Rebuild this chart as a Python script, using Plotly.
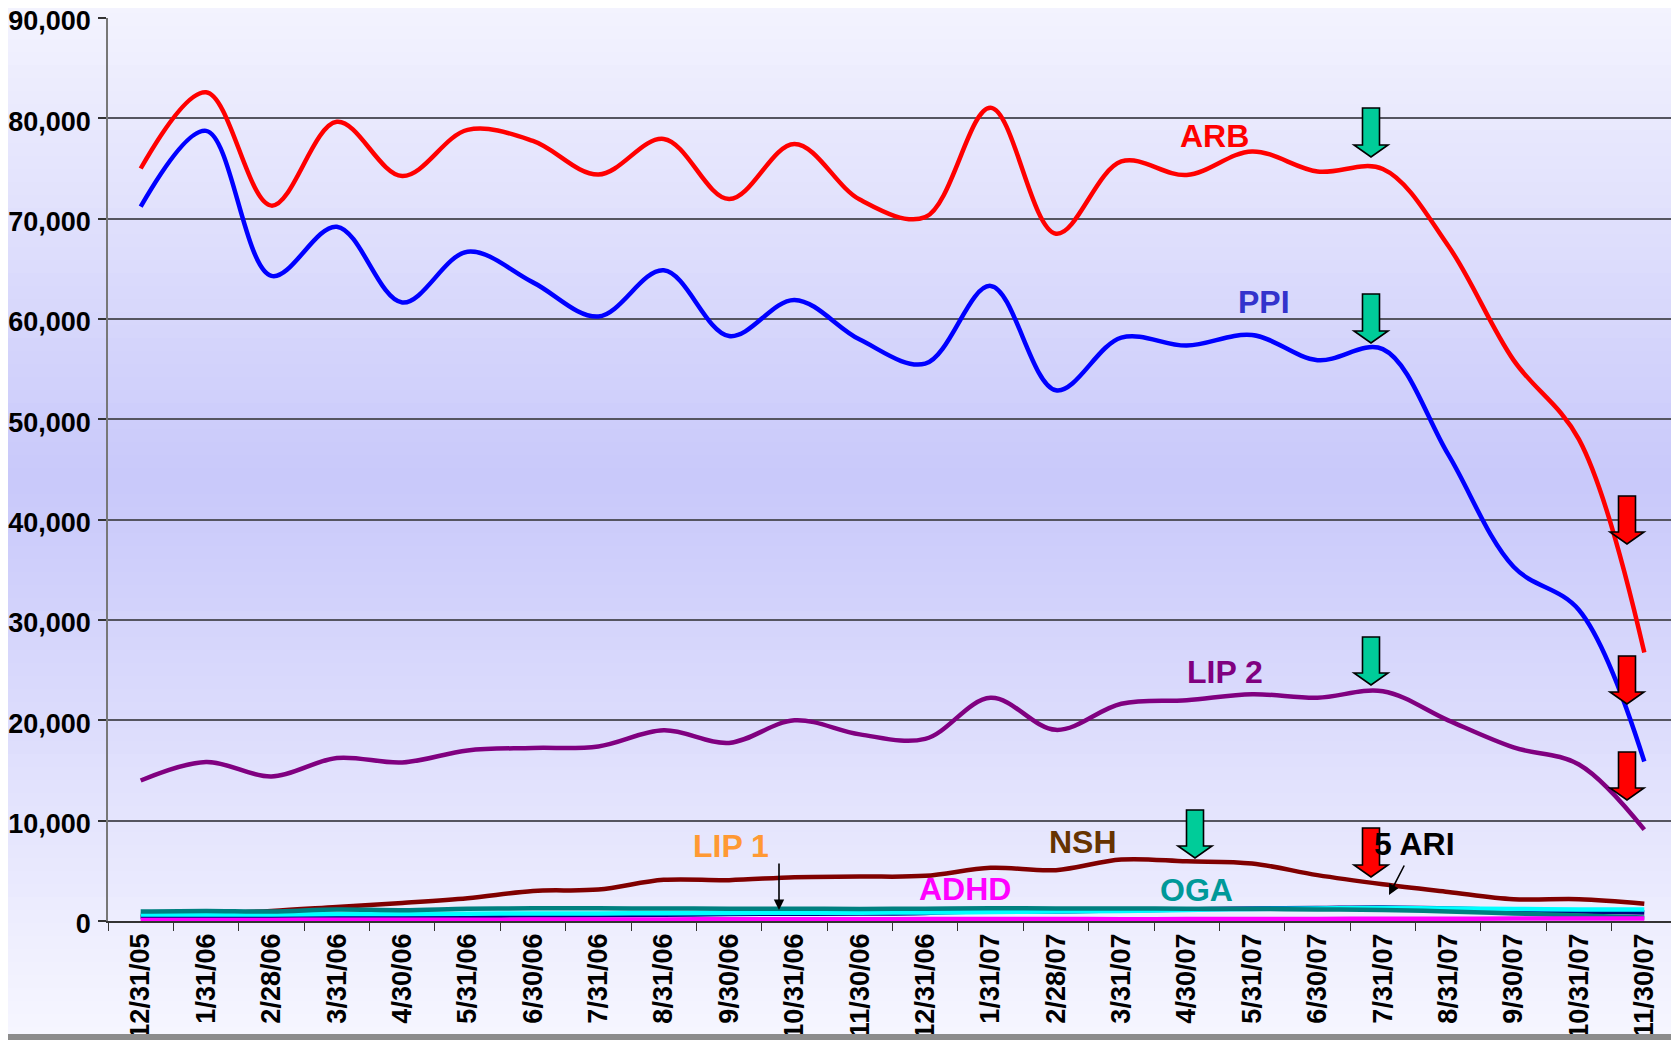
import plotly.graph_objects as go

# ---------------- data ----------------
categories = ["12/31/05", "1/31/06", "2/28/06", "3/31/06", "4/30/06", "5/31/06",
              "6/30/06", "7/31/06", "8/31/06", "9/30/06", "10/31/06", "11/30/06",
              "12/31/06", "1/31/07", "2/28/07", "3/31/07", "4/30/07", "5/31/07",
              "6/30/07", "7/31/07", "8/31/07", "9/30/07", "10/31/07", "11/30/07"]

arb = [75000, 82600, 71300, 79650, 74250, 78850, 77750, 74400, 77950, 71950, 77450, 71900,
       70150, 81050, 68500, 75700, 74350, 76700, 74700, 74950, 67300, 55900, 48000, 26750]
ppi = [71200, 78750, 64300, 69200, 61650, 66700, 63650, 60250, 64850, 58300, 61900, 57950,
       55550, 63300, 52900, 58150, 57350, 58400, 55900, 57000, 46500, 35300, 31000, 15900]
lip2 = [14000, 15850, 14400, 16250, 15800, 17000, 17250, 17400, 19000, 17750, 20000, 18600,
        18150, 22250, 19050, 21650, 22000, 22600, 22250, 22900, 20000, 17300, 15600, 9100]
nsh = [500, 730, 1000, 1400, 1800, 2270, 3000, 3130, 4100, 4070, 4370, 4430,
       4500, 5300, 5070, 6130, 5950, 5730, 4570, 3670, 2900, 2170, 2170, 1730]
oga = [950, 1000, 950, 1150, 1080, 1220, 1260, 1260, 1250, 1230, 1230, 1200,
       1230, 1280, 1250, 1250, 1230, 1200, 1150, 1100, 950, 750, 550, 350]
lip1 = [400, 420, 450, 480, 500, 520, 550, 570, 620, 700, 730, 740,
        800, 1000, 950, 1050, 1150, 1250, 1300, 1350, 1250, 1100, 950, 850]
ari5 = [650, 650, 650, 700, 700, 720, 750, 750, 780, 800, 820, 830,
        850, 900, 950, 1000, 1100, 1200, 1250, 1300, 1250, 1200, 1150, 1150]
adhd = [100, 100, 110, 120, 120, 130, 140, 150, 160, 170, 180, 180,
        190, 200, 200, 180, 190, 200, 210, 220, 230, 240, 240, 250]

series = [
    ("NSH", nsh, "#800000"),
    ("LIP 1", lip1, "#000080"),
    ("5 ARI", ari5, "#00FFFF"),
    ("OGA", oga, "#008080"),
    ("ADHD", adhd, "#FF00FF"),
    ("LIP 2", lip2, "#800080"),
    ("PPI", ppi, "#0000FF"),
    ("ARB", arb, "#FF0000"),
]

# ---------------- layout geometry (window pixels) ----------------
OFF = 8                      # default page body margin
WIN_W, WIN_H = 1679, 1040
X0, X1, Y0, Y1 = 108, 1677, 18, 921   # plot area in window pixels
PW, PH = X1 - X0, Y1 - Y0
FW, FH = WIN_W - OFF, WIN_H - OFF
ML, MT = X0 - OFF, Y0 - OFF
MR, MB = FW - ML - PW, FH - MT - PH
FONT = "Arial, Liberation Sans, sans-serif"


def px(x):
    return (x - X0) / PW


def py(y):
    return (Y1 - y) / PH


fig = go.Figure()
for name, vals, col in series:
    fig.add_trace(go.Scatter(x=categories, y=vals, name=name, mode="lines",
                             line=dict(color=col, width=4.5, shape="spline", smoothing=1.0),
                             showlegend=False, hoverinfo="skip"))

shapes = []
# background vertical gradient over whole page
stops = [(0, (244, 244, 254)), (480, (200, 200, 250)), (1040, (247, 247, 255))]
N = 80
for k in range(N):
    y0 = WIN_H * k / N
    y1 = WIN_H * (k + 1) / N
    ym = (y0 + y1) / 2
    for (a, ca), (b, cb) in zip(stops[:-1], stops[1:]):
        if a <= ym <= b:
            t = (ym - a) / (b - a)
            c = tuple(round(ca[i] + (cb[i] - ca[i]) * t) for i in range(3))
    shapes.append(dict(type="rect", xref="paper", yref="paper", layer="below",
                       x0=px(0), x1=px(WIN_W), y0=py(y0), y1=py(y1 + 0.5),
                       fillcolor="rgb(%d,%d,%d)" % c, line=dict(width=0)))


def block_arrow(cx, top, tip, color):
    sw, hw, hh = 8.5, 17, 12
    pts = [(cx - sw, top), (cx + sw, top), (cx + sw, tip - hh), (cx + hw, tip - hh),
           (cx, tip), (cx - hw, tip - hh), (cx - sw, tip - hh)]
    path = "M " + " L ".join("%.5f,%.5f" % (px(x), py(y)) for x, y in pts) + " Z"
    return dict(type="path", xref="paper", yref="paper", path=path, layer="above",
                fillcolor=color, line=dict(color="black", width=1.6))


GREEN, RED = "#00CC99", "#FF0000"
shapes += [
    block_arrow(1371, 108, 157, GREEN),
    block_arrow(1371, 294, 343, GREEN),
    block_arrow(1371, 637, 685, GREEN),
    block_arrow(1195, 810, 858, GREEN),
    block_arrow(1371, 828, 877, RED),
    block_arrow(1627, 496, 544, RED),
    block_arrow(1627, 656, 704, RED),
    block_arrow(1627, 752, 800, RED),
]
# grey bar at the bottom edge
shapes.append(dict(type="rect", xref="paper", yref="paper", layer="above",
                   x0=px(0), x1=px(WIN_W), y0=py(1045), y1=py(1034),
                   fillcolor="#8C8C8C", line=dict(width=0)))

labels = [
    ("ARB", 1214, 136, "#FF0000"),
    ("PPI", 1264, 302, "#3333CC"),
    ("LIP 2", 1225, 672, "#800080"),
    ("LIP 1", 731, 846, "#FF9933"),
    ("NSH", 1083, 842, "#663300"),
    ("ADHD", 965, 889, "#FF00FF"),
    ("OGA", 1196, 890, "#009999"),
    ("5 ARI", 1414, 844, "#000000"),
]
annotations = [dict(text=t, x=px(x), y=py(y), xref="paper", yref="paper",
                    xanchor="center", yanchor="middle", showarrow=False,
                    font=dict(family=FONT, size=32, color=c, weight=700))
               for t, x, y, c in labels]
# thin pointer arrows
annotations.append(dict(text="", x=px(779), y=py(910), xref="paper", yref="paper",
                        ax=0, ay=-48, showarrow=True, arrowhead=2, arrowsize=1.3,
                        arrowwidth=1.6, arrowcolor="black"))
annotations.append(dict(text="", x=px(1389), y=py(895), xref="paper", yref="paper",
                        ax=16, ay=-31, showarrow=True, arrowhead=2, arrowsize=1.3,
                        arrowwidth=1.6, arrowcolor="black"))

fig.update_layout(
    width=FW, height=FH,
    margin=dict(l=ML, r=MR, t=MT, b=MB, pad=0, autoexpand=False),
    paper_bgcolor="rgba(0,0,0,0)",
    plot_bgcolor="rgba(0,0,0,0)",
    shapes=shapes,
    annotations=annotations,
    font=dict(family=FONT),
    xaxis=dict(type="category", range=[-0.5, 23.5], showgrid=False, automargin=False,
               ticks="outside", tickson="boundaries", ticklen=8, tickcolor="#333333",
               tickwidth=1.2, tickangle=-90, ticklabeloverflow="allow",
               tickfont=dict(family=FONT, size=27, color="black", weight=700),
               showline=True, linecolor="#333333", linewidth=1.5, zeroline=False),
    yaxis=dict(range=[0, 90000], dtick=10000, tickformat=",", showgrid=True,
               automargin=False, ticklabeloverflow="allow", ticklabelshift=3,
               gridcolor="#555560", gridwidth=1.5, ticks="outside", ticklen=8,
               tickcolor="#333333", tickwidth=1.5,
               tickfont=dict(family=FONT, size=27, color="black", weight=700),
               showline=True, linecolor="#777777", linewidth=1.5, zeroline=False,
               ticklabelstandoff=2),
)

fig.write_html("out.html")
